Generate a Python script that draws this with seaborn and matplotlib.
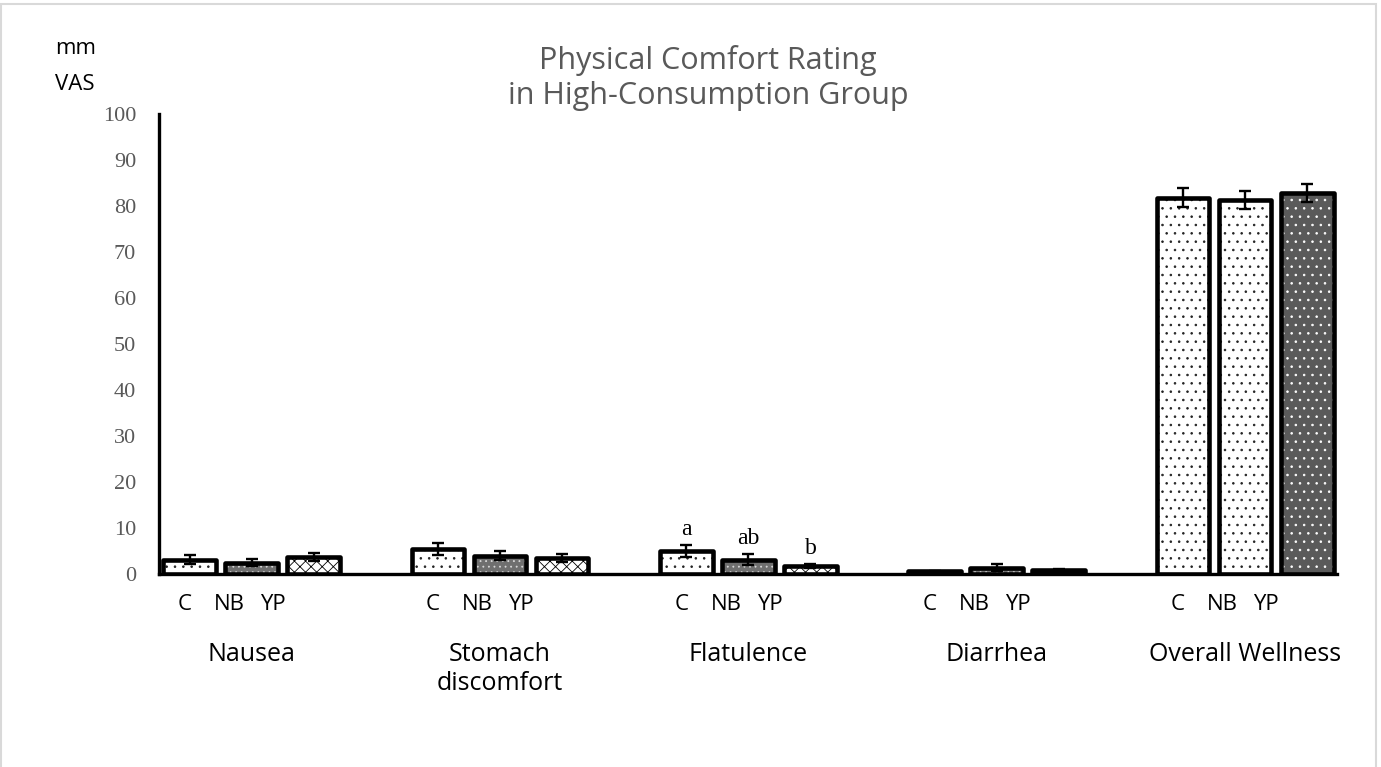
import matplotlib
matplotlib.use("Agg")
import matplotlib.pyplot as plt
import matplotlib.colors as mcolors
from matplotlib.patches import Rectangle
import pandas as pd
import seaborn as sns

# ---- data -----------------------------------------------------------------
categories = ["Nausea", "Stomach discomfort", "Flatulence", "Diarrhea", "Overall Wellness"]
category_labels = ["Nausea", "Stomach\ndiscomfort", "Flatulence", "Diarrhea", "Overall Wellness"]
treatments = ["C", "NB", "YP"]

mean_c = [3.1, 5.4, 5.0, 0.6, 81.8]
mean_nb = [2.5, 4.0, 3.1, 1.4, 81.3]
mean_yp = [3.7, 3.5, 1.8, 0.8, 82.8]

sem_c = [1.0, 1.3, 1.4, 0.1, 2.1]
sem_nb = [0.8, 1.0, 1.2, 0.7, 1.9]
sem_yp = [0.9, 0.9, 0.4, 0.2, 2.0]

flatulence_letters = ["a", "ab", "b"]
y_ticks = list(range(0, 101, 10))

means = {"C": mean_c, "NB": mean_nb, "YP": mean_yp}
sems = {"C": sem_c, "NB": sem_nb, "YP": sem_yp}

df = pd.DataFrame(
    [{"symptom": cat, "treatment": t, "vas": means[t][i]}
     for t in treatments for i, cat in enumerate(categories)]
)

# ---- styling --------------------------------------------------------------
sns.set_theme(style="white")
plt.rcParams["font.family"] = ["Open Sans", "DejaVu Sans"]
plt.rcParams["hatch.linewidth"] = 0.6

SERIF = ["Liberation Serif", "DejaVu Serif"]
GREY_TEXT = "#595959"

W, H = 1381, 767
fig = plt.figure(figsize=(W / 100, H / 100), dpi=100)
ax = fig.add_axes([159 / W, 1 - 574 / H, (1337 - 159) / W, (574 - 114) / H])

sns.barplot(
    data=df, x="symptom", y="vas", hue="treatment",
    order=categories, hue_order=treatments,
    palette=["white"] * 3, width=0.75, gap=0.15, errorbar=None,
    linewidth=3.3, edgecolor="black", legend=False, ax=ax, zorder=3,
)

light_dots = ("white", "..", "#222222")
dense_grey = ("#6f6f6f", "...", "#d8d8d8")
cross = ("white", "xxx", "black")
dark_dots = ("#5a5a5a", "..", "white")

fills = {
    "C": [light_dots] * 5,
    "NB": [dense_grey] * 4 + [light_dots],
    "YP": [cross] * 4 + [dark_dots],
}

for t, container in zip(treatments, ax.containers):
    xs = []
    for i, patch in enumerate(container.patches):
        face, hatch, hcolor = fills[t][i]
        patch.set_facecolor(face)
        patch.set_edgecolor("black")
        patch.set_hatch(hatch)
        patch._hatch_color = mcolors.to_rgba(hcolor)
        patch.set_joinstyle("round")
        xs.append(patch.get_x() + patch.get_width() / 2)
    ax.errorbar(xs, means[t], yerr=sems[t], fmt="none", ecolor="black",
                elinewidth=1.7, capsize=4.6, capthick=1.7, zorder=4)

    # significance letters above the Flatulence bars
    k = categories.index("Flatulence")
    j = treatments.index(t)
    ax.annotate(flatulence_letters[j], xy=(xs[k], means[t][k] + sems[t][k]),
                xytext=(0, 7), textcoords="offset points",
                ha="center", va="baseline", fontsize=17, family=SERIF,
                color="black", zorder=5)

    # treatment labels under each group
    offset = [-0.27, -0.09, 0.085][j]
    for i in range(len(categories)):
        ax.annotate(t, xy=(i + offset, 0), xycoords=("data", "axes fraction"),
                    xytext=(0, -22), textcoords="offset points",
                    ha="center", va="center", fontsize=16, color="black",
                    annotation_clip=False)

# ---- axes -----------------------------------------------------------------
ax.set_xlim(-0.373, 4.37)
ax.set_ylim(0, 100)
ax.set_yticks(y_ticks)
ax.set_yticklabels([str(v) for v in y_ticks], family=SERIF, fontsize=16, color=GREY_TEXT)
ax.set_xticks(range(len(categories)))
ax.set_xticklabels(category_labels, fontsize=18, color="black")
ax.tick_params(axis="y", length=0, pad=16.5)
ax.tick_params(axis="x", length=0, pad=49)
ax.set_xlabel("")
ax.set_ylabel("")
sns.despine(ax=ax)
for side in ("left", "bottom"):
    ax.spines[side].set_linewidth(2.4)
    ax.spines[side].set_color("black")
ax.grid(False)

# ---- figure texts -----------------------------------------------------------
fig.text(55 / W, 1 - 48 / H, "mm", ha="left", va="center", fontsize=16, color="black")
fig.text(55 / W, 1 - 85 / H, "VAS", ha="left", va="center", fontsize=16, color="black")
fig.text(708 / W, 1 - 78 / H, "Physical Comfort Rating\nin High-Consumption Group",
         ha="center", va="center", fontsize=22, color=GREY_TEXT, linespacing=1.2)

fig.add_artist(Rectangle((1 / W, -0.05), (1376 - 1) / W, 1.05 - 4 / H,
                         transform=fig.transFigure, fill=False,
                         edgecolor="#d9d9d9", linewidth=1.5, clip_on=False))

fig.savefig("out.png", dpi=100, facecolor="white")
